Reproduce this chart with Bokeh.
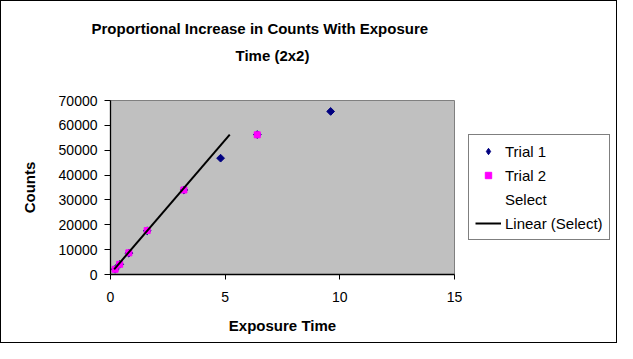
import math
from bokeh.plotting import figure
from bokeh.layouts import row
from bokeh.models import Range1d, Legend, LegendItem, Title, FixedTicker
from bokeh.embed import file_html
from bokeh.resources import INLINE

title_lines = ["Proportional Increase in Counts With Exposure", "Time (2x2)"]
x_label = "Exposure Time"
y_label = "Counts"
legend_labels = ["Trial 1", "Trial 2", "Select", "Linear (Select)"]

trial1_x = [0.2, 0.4, 0.8, 1.6, 3.2, 4.8, 6.4, 9.6]
trial1_y = [2100, 4100, 8600, 17600, 34000, 46800, 56300, 65600]
trial2_x = [0.2, 0.4, 0.8, 1.6, 3.2, 6.4]
trial2_y = [2100, 4100, 8700, 17700, 34000, 56200]
trend_x = [0.16, 5.2]
trend_y = [2100, 56300]

x_ticks = [0, 5, 10, 15]
y_ticks = [0, 10000, 20000, 30000, 40000, 50000, 60000, 70000]

FONT = "Liberation Sans"
NAVY = "#000080"
PINK = "#FF00FF"

# ---- main plot ----
p = figure(width=463, height=341, output_backend="svg", toolbar_location=None,
           x_range=Range1d(0, 15), y_range=Range1d(0, 70000),
           min_border_left=109, min_border_right=10, min_border_top=99, min_border_bottom=68,
           frame_width=344, frame_height=174, title=None)
p.background_fill_color = "#C0C0C0"
p.border_fill_color = "white"
p.outline_line_color = "#808080"
p.outline_line_width = 1
p.grid.visible = False

for ax in (p.xaxis[0], p.yaxis[0]):
    ax.axis_line_color = "black"
    ax.axis_line_width = 1.3
    ax.major_tick_line_color = "black"
    ax.major_tick_line_width = 1
    ax.major_tick_in = 0
    ax.minor_tick_line_color = None
    ax.major_label_text_font = FONT
    ax.major_label_text_font_size = "14px"
    ax.major_label_text_color = "black"
    ax.axis_label_text_font = FONT
    ax.axis_label_text_font_size = "15px"
    ax.axis_label_text_font_style = "bold"
    ax.axis_label_text_color = "black"

p.xaxis.major_tick_out = 5
p.yaxis.major_tick_out = 6
p.xaxis.ticker = FixedTicker(ticks=x_ticks)
p.yaxis.ticker = FixedTicker(ticks=y_ticks)
p.xaxis.axis_label = x_label
p.yaxis.axis_label = y_label
p.xaxis.major_label_standoff = 12
p.xaxis.axis_label_standoff = 12
p.yaxis.major_label_standoff = 7
p.yaxis.axis_label_standoff = 18

p.scatter(trial1_x, trial1_y, marker="square", angle=math.pi / 4, size=5.5,
          fill_color=NAVY, line_color=NAVY)
p.scatter(trial2_x, trial2_y, marker="square", size=6, fill_color=PINK, line_color=PINK)
p.line(trend_x, trend_y, line_color="black", line_width=2)

# spacer between frame and the two title lines
spacer = Title(text=" ", text_font_size="1px", standoff=30)
t2 = Title(text=title_lines[1], align="left", offset=125, text_font=FONT, text_font_size="15px",
           text_font_style="bold", text_color="black", standoff=8)
t1 = Title(text=title_lines[0], align="left", offset=-19, text_font=FONT, text_font_size="15px",
           text_font_style="bold", text_color="black", standoff=8)
p.add_layout(spacer, "above")
p.add_layout(t2, "above")
p.add_layout(t1, "above")

# ---- legend panel ----
q = figure(width=152, height=341, output_backend="svg", toolbar_location=None,
           x_range=Range1d(0, 1), y_range=Range1d(0, 1), x_axis_type=None, y_axis_type=None,
           min_border=0, title=None)
q.outline_line_color = None
q.background_fill_color = "white"
q.border_fill_color = "white"
q.grid.visible = False
nan = float("nan")
k1 = q.scatter([nan], [nan], marker="diamond", size=8, fill_color=NAVY, line_color=NAVY)
k2 = q.scatter([nan], [nan], marker="square", size=6, fill_color=PINK, line_color=PINK)
k3 = q.scatter([nan], [nan], marker="circle", size=1, alpha=0)
k4 = q.line([nan, nan], [nan, nan], line_color="black", line_width=2)

legend = Legend(items=[LegendItem(label=lab, renderers=[r])
                       for lab, r in zip(legend_labels, [k1, k2, k3, k4])],
                location=(4, 34))
legend.label_text_font = FONT
legend.label_text_font_size = "15px"
legend.label_text_color = "black"
legend.border_line_color = "black"
legend.border_line_width = 1
legend.background_fill_color = "white"
legend.glyph_width = 26
legend.glyph_height = 16
legend.label_height = 20
legend.spacing = 4
legend.padding = 6
legend.margin = 0
legend.label_standoff = 4
q.add_layout(legend, "center")

lay = row(p, q)
lay.styles = {"border": "1px solid black"}

open("out.html", "w").write(file_html(lay, INLINE))
